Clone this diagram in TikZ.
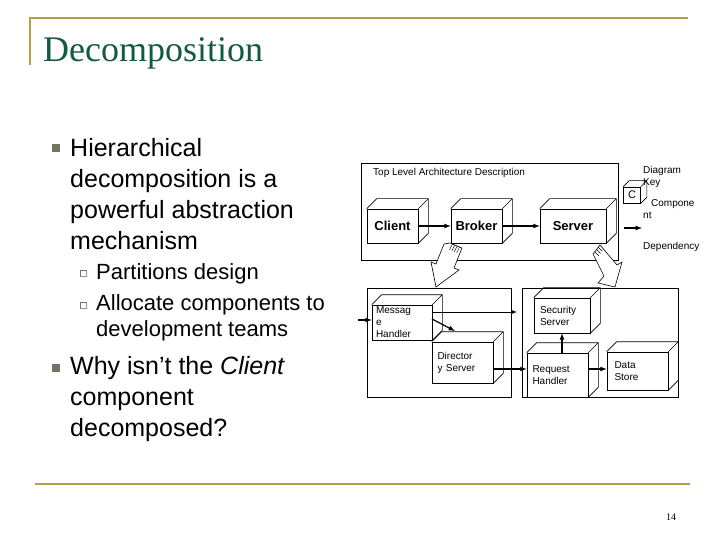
\documentclass[tikz,border=0pt]{standalone}
\usetikzlibrary{calc}
\usepackage{fontspec}
\setmainfont{Liberation Sans}
\newfontfamily\serifont{Liberation Serif}
\definecolor{gold}{RGB}{178,160,70}
\definecolor{ttl}{RGB}{20,90,60}
\definecolor{bul}{RGB}{110,120,100}
\begin{document}
\begin{tikzpicture}[x=1pt,y=-1pt,
  gl/.style={gold,line width=1.5pt},
  bt/.style={anchor=west,font=\fontsize{25}{31}\selectfont,align=left,inner sep=0},
  sb/.style={anchor=west,font=\fontsize{22}{26}\selectfont,align=left,inner sep=0},
  cub/.style={draw,line width=0.6pt,minimum width=#1,inner sep=1pt},
  dt/.style={font=\fontsize{10}{12}\selectfont,align=left,inner sep=0},
  ct/.style={font=\bfseries\fontsize{13}{15}\selectfont},
  ar/.style={-latex,line width=1.2pt},
  box/.style={draw,line width=0.6pt}]
\useasboundingbox (0,0) rectangle (720,540);
\newcommand\cubedepth[2]{\draw[line width=0.6pt] (#1.south east) -- ++(#2,-#2) |- ($(#1.north west)+(#2,-#2)$) -- (#1.north west) (#1.north east) -- ++(#2,-#2);}
% title
\draw[gl] (30,65) -- (30,18) -- (688,18);
\node[anchor=base west,inner sep=0,text=ttl,font=\serifont\fontsize{36}{40}\selectfont] (title) at (43,62) {Decomposition};
\draw[gl] (35,484) -- (690,484);
\node[font=\serifont\fontsize{10}{12}\selectfont] (pg) at (671,517) {14};
% bullets
\fill[bul] (52,144) rectangle (60,152);
\node[bt] (b1) at (70,194) {Hierarchical\\decomposition is a\\powerful abstraction\\mechanism};
\draw[bul] (80,270) rectangle (86,276); \fill[bul!70] (86,271) rectangle (87,277) (81,276) rectangle (87,277);
\draw[bul] (80,302) rectangle (86,308); \fill[bul!70] (86,303) rectangle (87,309) (81,308) rectangle (87,309);
\node[sb] (s1) at (96,274) {Partitions design};
\node[sb] (s2) at (96,318) {Allocate components to\\development teams};
\fill[bul] (52,364) rectangle (60,372);
\node[bt] (b2) at (70,399) {Why isn't the \textit{Client}\\component\\decomposed?};
% top box
\draw[box] (361,163) rectangle (618,260);
\node[dt,anchor=west] (tl) at (373,173) {Top Level Architecture Description};
\node[cub=51pt,minimum height=34pt,ct] (cl) at (392.5,226) {Client};
\node[cub=51pt,minimum height=34pt,ct] (br) at (476.5,226) {Broker};
\node[cub=66pt,minimum height=34pt,ct] (sv) at (573,226) {Server};
\cubedepth{cl}{10} \cubedepth{br}{10} \cubedepth{sv}{10}
\draw[ar] (cl.east) -- (br.west);
\draw[ar] (br.east) -- (sv.west);
% key
\node[cub=17pt,minimum height=16pt,font=\fontsize{11}{12}\selectfont] (kc) at (632,195) {C};
\cubedepth{kc}{6}
\node[dt,anchor=west] (dk) at (643,177) {Diagram\\Key};
\node[dt,anchor=west] (kcomp) at (651,204) {Compone};
\node[dt,anchor=west] (knt) at (643,215) {nt};
\coordinate (ka) at (624,228); \coordinate (kb) at (642,228);
\draw[ar] (ka) -- (kb);
\node[dt,anchor=west] (kdep) at (643,247) {Dependency};
% decomposition arrows
\draw[line width=0.6pt,fill=white] (450,243) -- (462,248) -- (454,268) -- (459,270) -- (436,287) -- (431,262) -- (436,264) -- (444,244) -- cycle;
\foreach \t in {0.2,0.4,0.6,0.8}{\draw[line width=0.4pt] ($(450,243)!\t!(462,248)$) -- ++(-3,6);}
\draw[line width=0.6pt,fill=white] (593,254) -- (600,245) -- (617,265) -- (622,262) -- (615,287) -- (598,283) -- (604,276) -- cycle;
\foreach \t in {0.25,0.5,0.75}{\draw[line width=0.4pt] ($(593,254)!\t!(600,245)$) -- ++(4,4);}
% bottom boxes
\draw[box] (367,288) rectangle (511,397);
\draw[box] (522,288) rectangle (678,397);
\node[cub=60pt,minimum height=35pt,dt,align=left,text width=52pt] (mh) at (402,322.5) {Messag\\e\\Handler};
\node[cub=61pt,minimum height=41pt,dt,align=left,text width=50pt] (ds) at (462.5,362.5) {Director\\y Server};
\node[cub=56pt,minimum height=35pt,dt,align=left,text width=44pt] (ss) at (562,315.5) {Security\\Server};
\node[cub=61pt,minimum height=44pt,dt,align=left,text width=50pt] (rh) at (557.5,375) {Request\\Handler};
\node[cub=61pt,minimum height=38pt,dt,align=left,text width=46pt] (dst) at (637.5,371) {Data\\Store};
\cubedepth{mh}{10} \cubedepth{ds}{10} \cubedepth{ss}{10} \cubedepth{rh}{10} \cubedepth{dst}{10}
\coordinate (in) at (358,320);
\coordinate (out) at (517,312);
\draw[ar] (in) -- (mh.west |- in);
\draw[-latex,line width=0.9pt] (mh.east |- out) -- (out);
\draw[ar] (432,319) -- (455,331);
\draw[ar] (ds.east |- 0,369) -- (rh.west |- 0,369);
\draw[ar] (rh.north -| ss) -- (ss.south);
\draw[ar] (rh.east |- 0,369) -- (dst.west |- 0,369);
\end{tikzpicture}
\end{document}
